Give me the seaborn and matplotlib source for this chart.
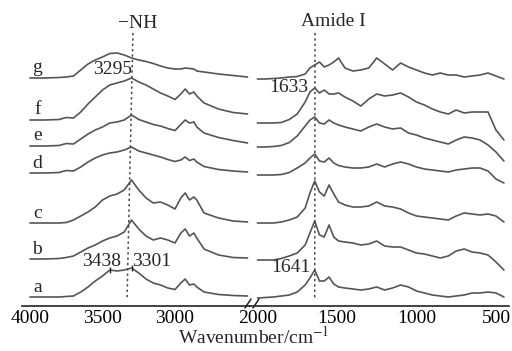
import numpy as np
import pandas as pd
import seaborn as sns
import matplotlib.pyplot as plt
from matplotlib.lines import Line2D

# wavenumber grids (cm-1) for the two panels of the broken axis
wn_left = [4000, 3900, 3800, 3750, 3700, 3650, 3600, 3550, 3500, 3450, 3400, 3350, 3300, 3250,
           3200, 3150, 3100, 3050, 3000, 2960, 2930, 2900, 2870, 2850, 2800, 2700, 2600, 2500]
wn_right = [2000, 1950, 1900, 1850, 1800, 1750, 1700, 1670, 1640, 1610, 1580, 1550, 1520, 1490,
            1450, 1400, 1350, 1300, 1250, 1200, 1150, 1100, 1050, 1000, 950, 900, 850, 800,
            750, 700, 650, 600, 550, 500, 450]

# stacked spectra (arbitrary units, axis drawn downwards)
g_left = [78, 78, 77.5, 77, 76, 70, 64, 60, 57, 53.5, 53, 55, 58, 60, 61.5, 63.5, 66, 68, 69, 69,
          68, 68.5, 69, 71, 72, 74, 75.5, 77]
f_left = [120, 120, 119.5, 117.5, 118, 112, 104, 97, 90, 85, 83, 81, 78, 82, 85, 89, 93, 96, 99.5,
          94, 89, 94, 92, 96, 103, 109, 112.5, 114]
e_left = [146, 146, 145.5, 143.5, 144, 139, 134, 130, 127, 123, 122, 120, 115, 119.5, 122, 124.5,
          126, 128.5, 130.5, 124.5, 120, 123, 122, 127, 133, 137.5, 140.5, 143]
d_left = [173, 173, 172.5, 170.5, 171, 167, 162, 158, 155, 153, 152, 150, 147, 151, 153, 155, 157,
          159.5, 161.5, 160, 157, 160.5, 159, 162, 166.5, 169.5, 171, 172]
c_left = [223, 223, 223, 222.5, 220, 216, 212, 207, 200, 196, 194, 190, 180, 190, 198, 203, 202,
          205, 209, 198, 193, 200, 197, 200, 213, 218, 221, 222]
b_left = [259, 259, 258.5, 257.5, 256, 252, 248, 245, 241, 238, 236, 232, 220, 229, 236, 240, 238,
          240, 243, 233, 229, 236, 233, 238, 249, 255, 257.5, 258]
a_left = [297, 297, 297, 296.5, 296, 292, 287, 281, 276, 270, 271, 270, 268, 273, 279, 283, 285,
          288, 289.5, 283, 279, 285, 284, 287, 292, 294.5, 295.5, 296]

g_right = [79, 79, 78.5, 78, 77, 76.5, 74, 68, 65, 62, 67, 65, 62, 58, 68, 71, 70, 68, 58, 64,
           70, 63, 67, 70, 73, 75, 73, 75, 75, 77, 76, 75, 73, 76, 79]
f_right = [123, 123, 123, 122.5, 119.5, 114, 102, 92, 88, 93, 90, 94, 94, 93, 97, 101, 106, 99, 94,
           96, 95, 93, 97, 102, 105, 109, 112, 114, 110, 113, 112, 112, 112, 130, 140]
e_right = [147, 147, 146.5, 145.5, 142.5, 136, 126, 120, 117, 123, 124, 120, 123, 125, 127, 129,
           131, 127, 124, 127, 129, 128, 133, 135, 138, 140, 142, 144, 140, 137, 138, 140, 145,
           152, 161]
d_right = [175, 175, 175, 174.5, 172.5, 168, 163, 158, 154, 161, 162, 158, 163, 165.5, 167, 168,
           168, 167, 164, 167, 164, 162, 164, 167, 169, 170, 171, 172, 170, 169, 168, 168, 171,
           179, 183]
c_right = [223, 223, 223, 222, 220, 217, 208, 193, 181, 192, 196, 185, 194, 202, 205, 207, 207,
           206, 202, 206, 207, 209, 213, 216, 217, 218, 219, 220, 216, 213, 214, 215, 214, 216, 222]
b_right = [260, 260, 260, 258.5, 256, 253, 245, 233, 221, 235, 237, 225, 237, 241, 242, 243, 245,
           244, 241, 246, 247, 247, 250, 253, 254, 256, 258, 256, 251, 249, 252, 253, 255, 262, 270]
a_right = [298, 297.5, 297, 296, 295, 292, 285, 278, 270, 281, 281, 277, 284, 287, 288, 289, 290,
           289, 287, 290, 288, 285, 287, 291, 293, 295, 296, 297, 296, 295, 293, 293, 292, 293, 297]

labels = ['g', 'f', 'e', 'd', 'c', 'b', 'a']
left_curves = [g_left, f_left, e_left, d_left, c_left, b_left, a_left]
right_curves = [g_right, f_right, e_right, d_right, c_right, b_right, a_right]

sns.set_style('white')
plt.rcParams['font.family'] = ['Liberation Serif', 'DejaVu Serif']
plt.rcParams['mathtext.fontset'] = 'stix'

fs = 14
line_col = '#555555'
fig = plt.figure(figsize=(5.12, 3.51), dpi=100)
ax1 = fig.add_axes([22/512, 45/351, 228/512, 306/351])
ax2 = fig.add_axes([250/512, 45/351, 259/512, 306/351])

for lab, yl, yr in zip(labels, left_curves, right_curves):
    sns.lineplot(x=wn_left, y=yl, ax=ax1, color=line_col, lw=1.2, sort=False)
    sns.lineplot(x=wn_right, y=yr, ax=ax2, color=line_col, lw=1.2, sort=False)
    ax1.text(3950, yl[0] - 1.5, lab, fontsize=fs, ha='center', va='bottom')

ax1.set_xlim(4055, 2483)
ax2.set_xlim(2047, 418)
for ax in (ax1, ax2):
    ax.set_ylim(306, 0)
    ax.set_yticks([])
    ax.set_ylabel('')
    for s in ('left', 'top', 'right'):
        ax.spines[s].set_visible(False)
    ax.spines['bottom'].set_linewidth(1.2)
    ax.spines['bottom'].set_color('#222222')
    ax.tick_params(axis='x', direction='in', length=4, width=1, labelsize=fs, pad=3,
                   colors='#222222', labelcolor='black')
ax1.set_xticks([4000, 3500, 3000])
ax2.set_xticks([2000, 1500, 1000, 500])
ax2.xaxis.get_major_ticks()[0].tick1line.set_visible(False)

# guide lines for -NH and Amide I bands
ax1.plot([3290, 3331], [33, 300], ls=(0, (1.5, 2)), color='#444444', lw=1.1)
ax2.plot([1638, 1640], [33, 300], ls=(0, (1.5, 2)), color='#444444', lw=1.1)
ax1.text(3255, 24, '\u2212NH', fontsize=fs, ha='center', va='center')
ax2.text(1525, 21, 'Amide I', fontsize=fs, ha='center', va='center')

# peak labels
ax1.text(3434, 70, '3295', fontsize=fs, ha='center', va='center')
ax1.text(3503, 261, '3438', fontsize=fs, ha='center', va='center')
ax1.text(3159, 261, '3301', fontsize=fs, ha='center', va='center')
ax2.text(1802, 87, '1633', fontsize=fs, ha='center', va='center')
ax2.text(1789, 267, '1641', fontsize=fs, ha='center', va='center')
ax1.plot([3450, 3300], [a_left[9], a_left[12]], ls='none', marker='|', ms=5, color='#222222')

# break marks
for xc in (248, 256):
    fig.add_artist(Line2D([(xc - 3)/512, (xc + 3)/512], [1 - 308/351, 1 - 299/351],
                          color='#222222', lw=1.1))

fig.text(254/512, 1 - 337/351, 'Wavenumber/cm$^{-1}$', fontsize=fs, ha='center', va='center')

fig.savefig('out.png', dpi=100)
